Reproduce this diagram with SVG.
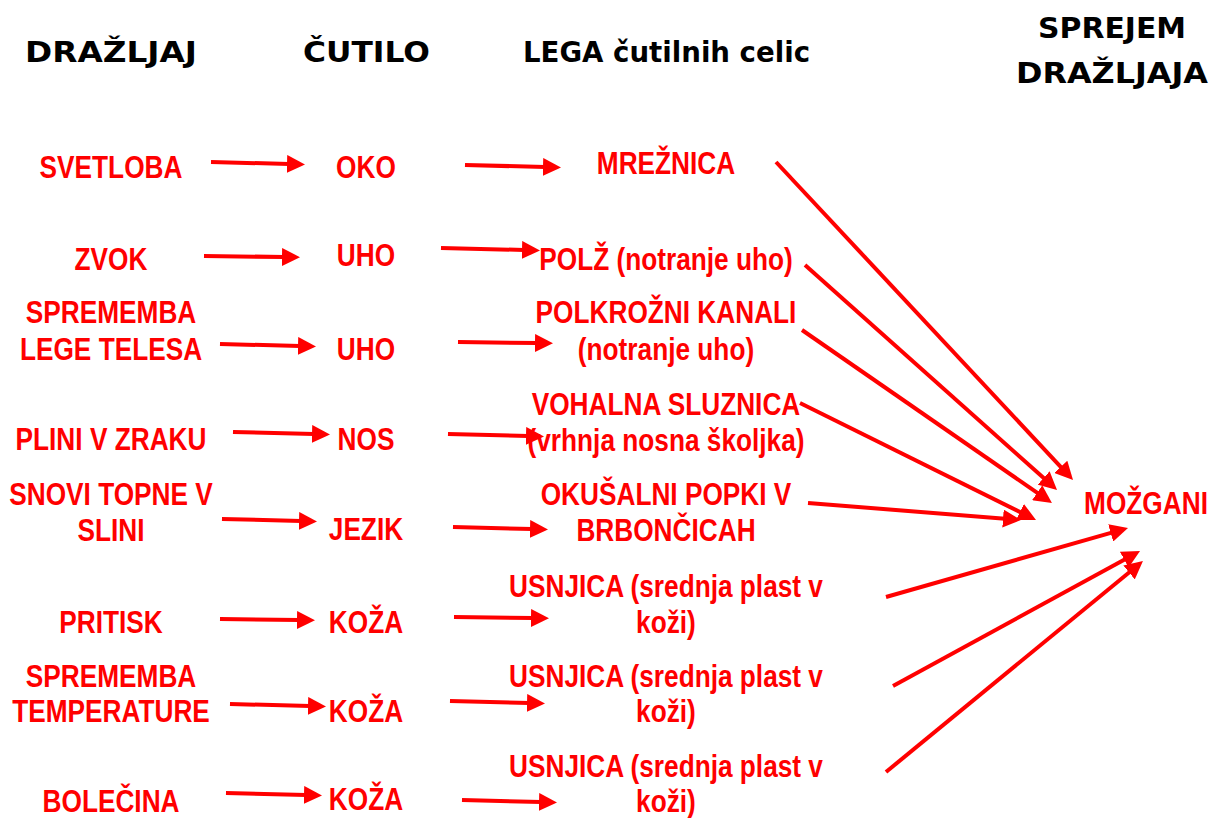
<svg xmlns="http://www.w3.org/2000/svg" width="1215" height="818" viewBox="0 0 1215 818">
<style>
.h{font-family:"Comic Sans MS","DejaVu Sans",sans-serif;font-weight:bold;font-size:28px;fill:#000}
.r{font-family:"Liberation Sans",Arial,sans-serif;font-weight:bold;font-size:32px;fill:#ff0000;text-anchor:middle}
.c line{stroke:#ff0000;stroke-width:4;fill:none;marker-end:url(#ah)}
</style>
<defs>
<marker id="ah" markerUnits="userSpaceOnUse" viewBox="0 0 18 18" markerWidth="18" markerHeight="18" refX="2" refY="9" orient="auto">
<path d="M0,0 L18,9 L0,18 z" fill="#ff0000"/>
</marker>
</defs>
<rect width="1215" height="818" fill="#fff"/>
<g id="headers">
<text class="h" x="25" y="62" textLength="172" lengthAdjust="spacingAndGlyphs">DRAŽLJAJ</text>
<text class="h" x="303" y="62" textLength="127" lengthAdjust="spacingAndGlyphs">ČUTILO</text>
<text class="h" x="523" y="62" textLength="287" lengthAdjust="spacingAndGlyphs">LEGA čutilnih celic</text>
<text class="h" x="1038" y="38" textLength="148" lengthAdjust="spacingAndGlyphs">SPREJEM</text>
<text class="h" x="1016" y="83" textLength="192" lengthAdjust="spacingAndGlyphs">DRAŽLJAJA</text>
</g>
<g id="drazljaji">
<g id="d1" transform="scale(0.82 1)"><text class="r" x="135.4" y="178">SVETLOBA</text></g>
<g id="d2" transform="scale(0.82 1)"><text class="r" x="135.4" y="270">ZVOK</text></g>
<g id="d3" transform="scale(0.82 1)"><text class="r" x="135.4" y="323">SPREMEMBA</text><text class="r" x="135.4" y="360">LEGE TELESA</text></g>
<g id="d4" transform="scale(0.82 1)"><text class="r" x="135.4" y="450">PLINI V ZRAKU</text></g>
<g id="d5" transform="scale(0.82 1)"><text class="r" x="135.4" y="505">SNOVI TOPNE V</text><text class="r" x="135.4" y="541">SLINI</text></g>
<g id="d6" transform="scale(0.82 1)"><text class="r" x="135.4" y="633">PRITISK</text></g>
<g id="d7" transform="scale(0.82 1)"><text class="r" x="135.4" y="687">SPREMEMBA</text><text class="r" x="135.4" y="722">TEMPERATURE</text></g>
<g id="d8" transform="scale(0.82 1)"><text class="r" x="135.4" y="812">BOLEČINA</text></g>
</g>
<g id="cutila">
<g id="c1" transform="scale(0.82 1)"><text class="r" x="446.3" y="178">OKO</text></g>
<g id="c2" transform="scale(0.82 1)"><text class="r" x="446.3" y="266">UHO</text></g>
<g id="c3" transform="scale(0.82 1)"><text class="r" x="446.3" y="360">UHO</text></g>
<g id="c4" transform="scale(0.82 1)"><text class="r" x="446.3" y="450">NOS</text></g>
<g id="c5" transform="scale(0.82 1)"><text class="r" x="446.3" y="540">JEZIK</text></g>
<g id="c6" transform="scale(0.82 1)"><text class="r" x="446.3" y="633">KOŽA</text></g>
<g id="c7" transform="scale(0.82 1)"><text class="r" x="446.3" y="722">KOŽA</text></g>
<g id="c8" transform="scale(0.82 1)"><text class="r" x="446.3" y="810">KOŽA</text></g>
</g>
<g id="lega">
<g id="l1" transform="scale(0.82 1)"><text class="r" x="812.2" y="174">MREŽNICA</text></g>
<g id="l2" transform="scale(0.82 1)"><text class="r" x="812.2" y="270">POLŽ (notranje uho)</text></g>
<g id="l3" transform="scale(0.82 1)"><text class="r" x="812.2" y="323">POLKROŽNI KANALI</text><text class="r" x="812.2" y="360">(notranje uho)</text></g>
<g id="l4" transform="scale(0.82 1)"><text class="r" x="812.2" y="415">VOHALNA SLUZNICA</text><text class="r" x="812.2" y="451">(vrhnja nosna školjka)</text></g>
<g id="l5" transform="scale(0.82 1)"><text class="r" x="812.2" y="505">OKUŠALNI POPKI V</text><text class="r" x="812.2" y="541">BRBONČICAH</text></g>
<g id="l6" transform="scale(0.82 1)"><text class="r" x="812.2" y="597">USNJICA (srednja plast v</text><text class="r" x="812.2" y="633">koži)</text></g>
<g id="l7" transform="scale(0.82 1)"><text class="r" x="812.2" y="687">USNJICA (srednja plast v</text><text class="r" x="812.2" y="722">koži)</text></g>
<g id="l8" transform="scale(0.82 1)"><text class="r" x="812.2" y="777">USNJICA (srednja plast v</text><text class="r" x="812.2" y="812">koži)</text></g>
</g>
<g id="mozgani" transform="scale(0.82 1)"><text class="r" x="1397.6" y="514">MOŽGANI</text></g>
<g id="connectors" class="c">
<line x1="211" y1="162" x2="289" y2="164"/>
<line x1="204" y1="256" x2="284" y2="257"/>
<line x1="220" y1="344" x2="300" y2="346"/>
<line x1="233" y1="432" x2="314" y2="434"/>
<line x1="222" y1="519" x2="301" y2="521"/>
<line x1="220" y1="619" x2="299" y2="620"/>
<line x1="230" y1="704" x2="310" y2="706"/>
<line x1="226" y1="793" x2="306" y2="795"/>
<line x1="465" y1="165" x2="545" y2="167"/>
<line x1="441" y1="248" x2="524" y2="250"/>
<line x1="458" y1="342" x2="537" y2="343"/>
<line x1="448" y1="434" x2="528" y2="436"/>
<line x1="453" y1="527" x2="532" y2="529"/>
<line x1="454" y1="617" x2="533" y2="618"/>
<line x1="450" y1="701" x2="529" y2="703"/>
<line x1="462" y1="800" x2="541" y2="802"/>
<line x1="776" y1="162" x2="1062.1" y2="468.3"/>
<line x1="805" y1="265" x2="1045.1" y2="479.3"/>
<line x1="802" y1="330" x2="1038.8" y2="493.9"/>
<line x1="800" y1="403" x2="1021.7" y2="512.9"/>
<line x1="808" y1="503" x2="1005" y2="518.7"/>
<line x1="886" y1="597" x2="1112.6" y2="532.4"/>
<line x1="893" y1="686" x2="1126" y2="558.7"/>
<line x1="886" y1="772" x2="1130.6" y2="571.2"/>
</g>
</svg>
